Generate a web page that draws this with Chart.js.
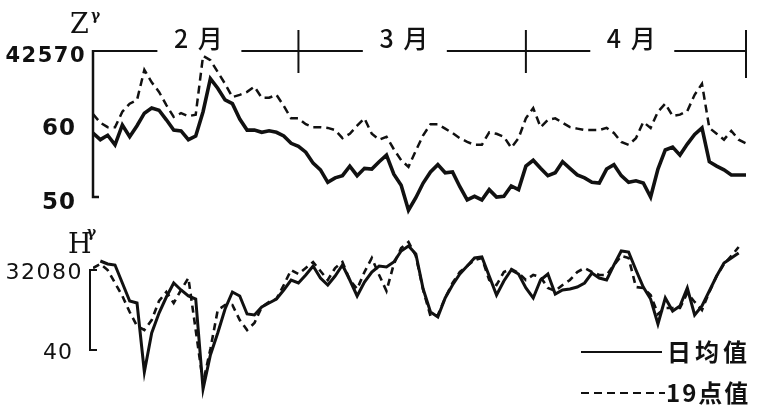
<!DOCTYPE html>
<html>
<head>
<meta charset="utf-8">
<script src="https://cdn.jsdelivr.net/npm/chart.js@4/dist/chart.umd.min.js"></script>
<style>
  html, body { margin: 0; padding: 0; background: #fff; }
  #wrap { width: 761px; height: 414px; position: relative; }
  canvas { display: block; }
</style>
</head>
<body>
<div id="wrap"><canvas id="c" width="761" height="414"></canvas></div>
<script>
// Daily geomagnetic values, 1 Feb – 30 Apr (one value per day, nT / γ)

// Z component: daily mean (solid) and 19-point value (dashed)
const zDailyMean = [
  42558.7, 42557.8, 42558.4, 42557.1, 42559.8, 42558.2, 42559.7, 42561.4, 42562.1, 42561.8,
  42560.5, 42559.1, 42559.0, 42557.8, 42558.3, 42561.6, 42566.1, 42564.8, 42563.2, 42562.7,
  42560.6, 42559.1, 42559.1, 42558.8, 42559.0, 42558.8, 42558.3, 42557.3, 42556.9, 42556.1,
  42554.6, 42553.7, 42552.0, 42552.6, 42552.9, 42554.2, 42552.9, 42553.9, 42553.8, 42554.8,
  42555.7, 42553.1, 42551.6, 42548.2, 42549.9, 42551.9, 42553.4, 42554.4, 42553.3, 42553.4,
  42551.4, 42549.6, 42550.1, 42549.6, 42551.0, 42550.0, 42550.1, 42551.5, 42551.0, 42554.2,
  42555.0, 42553.9, 42552.9, 42553.3, 42554.8, 42553.9, 42553.0, 42552.6, 42552.0, 42551.9,
  42553.8, 42554.4, 42552.9, 42552.0, 42552.2, 42551.9, 42550.0, 42553.8, 42556.4, 42556.8,
  42555.7, 42557.2, 42558.5, 42559.4, 42554.8, 42554.2, 42553.7, 42553.0, 42553.0, 42553.0
];
const z19Point = [
  42561.3, 42560.1, 42559.5, 42559.5, 42561.6, 42562.7, 42563.2, 42567.3, 42565.6, 42564.3,
  42562.5, 42560.9, 42561.4, 42561.0, 42561.2, 42569.2, 42568.6, 42567.0, 42565.4, 42563.6,
  42563.9, 42564.3, 42565.0, 42563.5, 42563.5, 42563.9, 42562.4, 42560.7, 42560.7, 42559.9,
  42559.5, 42559.5, 42559.4, 42559.1, 42558.0, 42558.6, 42559.7, 42560.7, 42558.6, 42557.8,
  42558.2, 42556.5, 42555.0, 42554.1, 42556.3, 42558.4, 42559.9, 42559.9, 42559.3, 42558.7,
  42558.0, 42557.5, 42557.1, 42557.1, 42558.8, 42558.6, 42558.2, 42556.7, 42558.0, 42560.7,
  42562.1, 42559.5, 42560.5, 42560.7, 42560.1, 42559.5, 42559.3, 42559.1, 42559.1, 42559.1,
  42559.4, 42558.7, 42557.5, 42557.1, 42558.0, 42560.2, 42559.4, 42561.6, 42562.7, 42561.0,
  42561.2, 42561.7, 42563.9, 42565.4, 42559.4, 42558.6, 42557.8, 42559.0, 42557.8, 42557.3
];

// H component: daily mean (solid) and 19-point value (dashed)
const hDailyMean = [
  null,    32084.5, 32083.0, 32082.5, 32073.5, 32064.5, 32063.5, 32029.0, 32048.5, 32058.5,
  32066.5, 32073.5, 32070.0, 32067.0, 32065.5, 32020.5, 32037.5, 32048.5, 32060.5, 32069.0,
  32067.0, 32058.0, 32057.5, 32061.5, 32063.5, 32065.5, 32070.0, 32075.0, 32073.5, 32077.5,
  32082.0, 32076.0, 32072.5, 32077.0, 32082.5, 32075.0, 32067.0, 32074.0, 32079.0, 32082.0,
  32081.5, 32084.0, 32089.5, 32092.0, 32088.0, 32070.5, 32059.0, 32056.5, 32066.0, 32072.5,
  32078.0, 32082.0, 32086.0, 32086.5, 32077.0, 32067.5, 32074.5, 32080.0, 32078.0, 32071.0,
  32066.0, 32075.0, 32078.0, 32068.0, 32070.0, 32070.5, 32071.5, 32073.5, 32078.5, 32076.0,
  32075.0, 32082.5, 32089.5, 32089.0, 32080.0, 32071.5, 32065.5, 32053.0, 32066.0, 32059.5,
  32062.0, 32071.0, 32057.5, 32062.0, 32069.5, 32077.0, 32083.5, 32086.0, 32088.5, null
];
const h19Point = [
  32081.0, 32083.0, 32080.0, 32073.5, 32067.0, 32059.0, 32052.0, 32050.0, 32055.0, 32064.5,
  32069.0, 32063.5, 32070.0, 32076.0, 32050.0, 32023.5, 32040.5, 32060.0, 32062.5, 32062.5,
  32055.0, 32050.0, 32053.5, 32061.5, 32064.0, 32065.5, 32072.5, 32080.0, 32078.0, 32081.0,
  32084.0, 32079.5, 32075.0, 32081.0, 32084.0, 32075.0, 32070.5, 32079.0, 32086.0, 32077.5,
  32069.5, 32083.0, 32091.0, 32094.0, 32087.0, 32070.0, 32057.0, 32057.5, 32066.0, 32073.5,
  32079.0, 32082.0, 32085.0, 32086.0, 32075.0, 32072.5, 32079.0, 32080.5, 32078.5, 32075.0,
  32077.5, 32076.5, 32071.0, 32069.5, 32072.5, 32075.0, 32079.0, 32081.0, 32079.0, 32077.5,
  32077.5, 32082.5, 32087.0, 32086.0, 32071.5, 32071.0, 32067.5, 32058.0, 32061.0, 32061.0,
  32061.0, 32068.5, 32064.0, 32060.0, 32069.0, 32077.0, 32083.0, 32087.0, 32091.5, null
];

// Month axis: day offsets from 1 Feb where each month begins, the 15th of each
// month (where its name is printed) and the month names
const monthStarts = [0, 28, 59, 89];
const monthMids = [14, 42, 73];
const monthNames = ['2 月', '3 月', '4 月'];

// Vertical tick values and their printed labels
const zTicks = [42570, 42560, 42550];
const zTickLabels = ['42570', '60', '50'];
const hTicks = [32080, 32040];
const hTickLabels = ['32080', '40'];

// Legend entries
const legendNames = ['日均值', '19点值'];

const INK = '#111';
const toPoints = arr => arr.map((v, i) => ({ x: i, y: v }));

// Bracket axes, month axis, tick labels and legend drawn from the chart's scales
const framePlugin = {
  id: 'frame',
  beforeDraw(chart) {
    const ctx = chart.ctx;
    ctx.save();
    ctx.fillStyle = '#fff';
    ctx.fillRect(0, 0, chart.width, chart.height);
    ctx.restore();
  },
  afterDatasetsDraw(chart) {
    const { ctx, scales } = chart;
    const x = scales.x, z = scales.z, h = scales.h;
    ctx.save();
    ctx.strokeStyle = INK;
    ctx.fillStyle = INK;
    ctx.lineCap = 'butt';

    // ---- Z panel bracket axis
    const zx = x.getPixelForValue(0);
    const zTop = z.getPixelForValue(zTicks[0]);
    const zBot = z.getPixelForValue(zTicks[zTicks.length - 1]);
    ctx.lineWidth = 2.5;
    ctx.beginPath();
    ctx.moveTo(zx, zTop);
    ctx.lineTo(zx, zBot);
    ctx.lineTo(zx + 6, zBot);
    ctx.stroke();

    // ---- month axis along the top of the Z panel
    const my = zTop + 1;
    const gap = 42;
    ctx.lineWidth = 2;
    for (let m = 0; m < monthNames.length; m++) {
      const a = x.getPixelForValue(monthStarts[m]);
      const b = x.getPixelForValue(monthStarts[m + 1]);
      const c = x.getPixelForValue(monthMids[m] + 0.5);
      ctx.beginPath();
      ctx.moveTo(a, my); ctx.lineTo(c - gap, my);
      ctx.moveTo(c + gap, my); ctx.lineTo(b, my);
      ctx.stroke();
      ctx.font = '500 25px "Noto Sans CJK SC"';
      ctx.textAlign = 'center';
      ctx.textBaseline = 'middle';
      ctx.letterSpacing = '2px';
      ctx.fillText(monthNames[m], c, my - 12);
      ctx.letterSpacing = '0px';
    }
    ctx.lineWidth = 2;
    for (let k = 1; k < monthStarts.length; k++) {
      const px = x.getPixelForValue(monthStarts[k]);
      const last = k === monthStarts.length - 1;
      ctx.beginPath();
      ctx.moveTo(px, my - 21);
      ctx.lineTo(px, my + (last ? 27 : 22));
      ctx.stroke();
    }

    // ---- Z tick labels
    ctx.textBaseline = 'middle';
    ctx.textAlign = 'right';
    zTicks.forEach((v, i) => {
      const py = z.getPixelForValue(v) + 6;
      if (i === 0) {
        ctx.font = 'bold 21px "DejaVu Sans"';
        ctx.letterSpacing = '1.5px';
        ctx.fillText(zTickLabels[i], zx - 7, py + 1);
      } else {
        ctx.font = 'bold 23px "DejaVu Sans"';
        ctx.letterSpacing = '1px';
        ctx.fillText(zTickLabels[i], zx - 17, py);
      }
    });
    ctx.letterSpacing = '0px';

    // ---- Z unit label
    ctx.textAlign = 'left';
    ctx.textBaseline = 'alphabetic';
    ctx.font = '27px "DejaVu Serif"';
    ctx.fillText('Z', zx - 23, zTop - 17);
    ctx.font = 'bold 14px "DejaVu Serif"';
    ctx.fillText('γ', zx - 2, zTop - 30);

    // ---- H panel bracket axis
    const hx = x.getPixelForValue(0) - 3;
    const hTop = h.getPixelForValue(hTicks[0]);
    const hBot = h.getPixelForValue(hTicks[hTicks.length - 1]);
    ctx.lineWidth = 2;
    ctx.beginPath();
    ctx.moveTo(hx + 7, hTop);
    ctx.lineTo(hx, hTop);
    ctx.lineTo(hx, hBot);
    ctx.lineTo(hx + 7, hBot);
    ctx.stroke();

    // ---- H tick labels
    ctx.textBaseline = 'middle';
    ctx.textAlign = 'right';
    hTicks.forEach((v, i) => {
      const py = h.getPixelForValue(v) + 3;
      ctx.font = '22px "DejaVu Sans"';
      ctx.letterSpacing = i === 0 ? '1.5px' : '1px';
      ctx.fillText(hTickLabels[i], i === 0 ? hx - 7 : hx - 17, py);
    });
    ctx.letterSpacing = '0px';

    // ---- H unit label
    ctx.textAlign = 'left';
    ctx.textBaseline = 'alphabetic';
    ctx.font = '27px "DejaVu Serif"';
    ctx.fillText('H', hx - 22, hTop - 17);
    ctx.font = 'bold 14px "DejaVu Serif"';
    ctx.fillText('γ', hx - 3, hTop - 33);

    // ---- legend
    const lx0 = 581, lx1 = 662, ly0 = 352, ly1 = 393;
    ctx.lineWidth = 2;
    ctx.beginPath();
    ctx.moveTo(lx0, ly0); ctx.lineTo(lx1, ly0);
    ctx.stroke();
    ctx.setLineDash([8, 5]);
    ctx.beginPath();
    ctx.moveTo(lx0, ly1); ctx.lineTo(lx1 + 3, ly1);
    ctx.stroke();
    ctx.setLineDash([]);
    ctx.font = 'bold 24px "Noto Sans CJK SC"';
    ctx.textBaseline = 'middle';
    ctx.letterSpacing = '4px';
    ctx.fillText(legendNames[0], 667, ly0);
    ctx.letterSpacing = '2px';
    ctx.fillText(legendNames[1], 666, ly1);
    ctx.letterSpacing = '0px';
    ctx.restore();
  }
};

new Chart(document.getElementById('c'), {
  type: 'line',
  data: {
    datasets: [
      { label: legendNames[0], data: toPoints(zDailyMean), yAxisID: 'z',
        borderColor: INK, borderWidth: 3.6 },
      { label: legendNames[1], data: toPoints(z19Point), yAxisID: 'z',
        borderColor: INK, borderWidth: 2.5, borderDash: [8, 5] },
      { label: legendNames[0], data: toPoints(hDailyMean), yAxisID: 'h',
        borderColor: INK, borderWidth: 3 },
      { label: legendNames[1], data: toPoints(h19Point), yAxisID: 'h',
        borderColor: INK, borderWidth: 2.6, borderDash: [7, 5] }
    ]
  },
  options: {
    responsive: false,
    animation: false,
    spanGaps: true,
    layout: { padding: { left: 93, right: 15, top: 0, bottom: 0 } },
    elements: { point: { radius: 0 }, line: { tension: 0, fill: false } },
    plugins: { legend: { display: false }, tooltip: { enabled: false } },
    scales: {
      x: { type: 'linear', min: 0, max: 89, display: false },
      // 7.35 px per nT; 42570 at y≈50, 42550 at y≈197
      z: { type: 'linear', min: 42520.48, max: 42576.80, display: false },
      // 2 px per nT; 32080 at y≈270, 32040 at y≈350
      h: { type: 'linear', min: 32008, max: 32215, display: false }
    }
  },
  plugins: [framePlugin]
});
</script>
</body>
</html>
